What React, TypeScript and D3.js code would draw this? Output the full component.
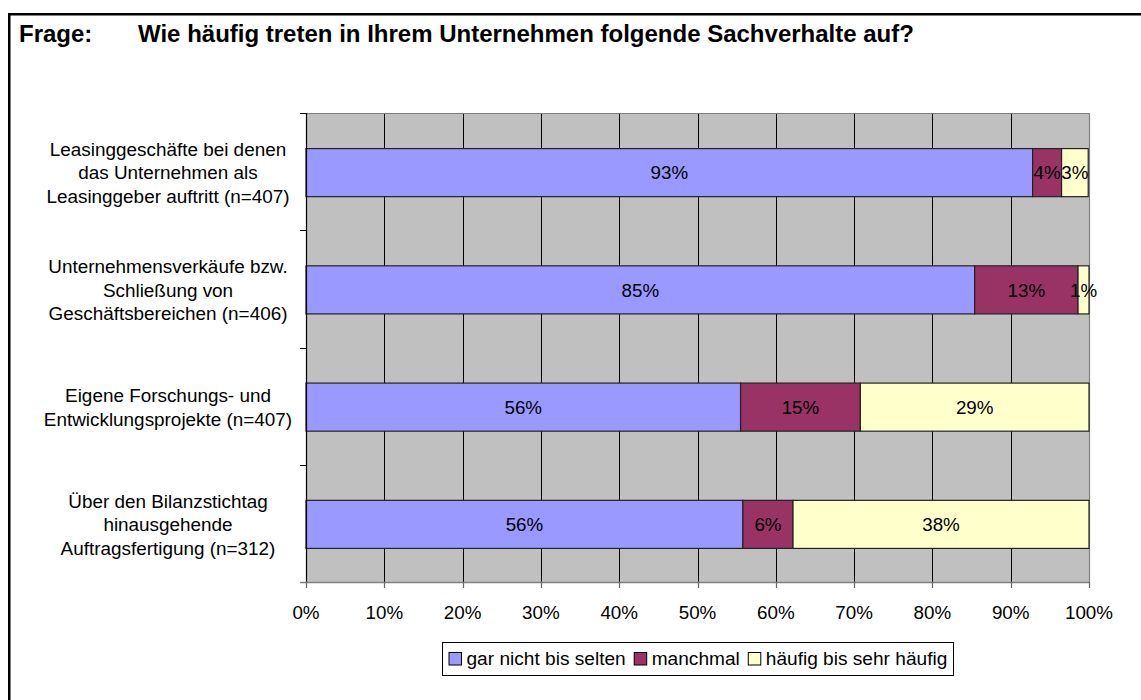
import React, { useEffect, useRef } from 'react';
import * as d3 from 'd3';

const titleLead = 'Frage:';
const titleText = 'Wie häufig treten in Ihrem Unternehmen folgende Sachverhalte auf?';

const categories: string[][] = [
  ['Leasinggeschäfte bei denen', 'das Unternehmen als', 'Leasinggeber auftritt (n=407)'],
  ['Unternehmensverkäufe bzw.', 'Schließung von', 'Geschäftsbereichen (n=406)'],
  ['Eigene Forschungs- und', 'Entwicklungsprojekte (n=407)'],
  ['Über den Bilanzstichtag', 'hinausgehende', 'Auftragsfertigung (n=312)'],
];

const seriesNames = ['gar nicht bis selten', 'manchmal', 'häufig bis sehr häufig'];
const garNichtBisSelten = [92.8, 85.4, 55.5, 55.8];
const manchmal = [3.7, 13.2, 15.3, 6.4];
const haeufig = [3.4, 1.4, 29.2, 37.8];
const seriesColors = ['#9999FF', '#993366', '#FFFFCC'];
const xTicks = [0, 10, 20, 30, 40, 50, 60, 70, 80, 90, 100];

const FONT = '"Liberation Sans", Arial, Helvetica, sans-serif';

export default function App() {
  const ref = useRef<SVGSVGElement>(null);

  useEffect(() => {
    const svg = d3.select(ref.current);
    svg.selectAll('*').remove();

    const W = 1141, H = 700;
    const m = { left: 306, right: 1089, top: 113, bottom: 582 };

    // frame
    svg.append('path')
      .attr('d', `M9.25,${H + 5} V14.25 H${W + 5}`)
      .attr('fill', 'none').attr('stroke', '#000').attr('stroke-width', 2.5);

    // title
    svg.append('text').attr('x', 19).attr('y', 41.5)
      .attr('font-family', FONT).attr('font-weight', 'bold').attr('font-size', 24)
      .attr('fill', '#000').text(titleLead);
    svg.append('text').attr('x', 138).attr('y', 41.5)
      .attr('font-family', FONT).attr('font-weight', 'bold').attr('font-size', 24)
      .attr('fill', '#000').text(titleText);

    const x = d3.scaleLinear().domain([0, 100]).range([m.left, m.right]);
    const y = d3.scaleBand<number>().domain(d3.range(categories.length))
      .range([m.top, m.bottom]).paddingInner(0.59).paddingOuter(0.295);
    const step = y.step();

    // plot background
    svg.append('rect').attr('x', m.left).attr('y', m.top)
      .attr('width', m.right - m.left).attr('height', m.bottom - m.top)
      .attr('fill', '#C0C0C0');

    // gridlines
    svg.append('g').selectAll('line')
      .data(xTicks.filter(t => t > 0 && t < 100))
      .join('line')
      .attr('x1', d => Math.round(x(d)) + 0.5).attr('x2', d => Math.round(x(d)) + 0.5)
      .attr('y1', m.top).attr('y2', m.bottom)
      .attr('stroke', '#000').attr('stroke-width', 1);

    // plot border (top + right)
    svg.append('path')
      .attr('d', `M${m.left},${m.top + 0.5} H${m.right + 0.5} V${m.bottom}`)
      .attr('fill', 'none').attr('stroke', '#808080').attr('stroke-width', 1.2);

    // bars
    const stacks = categories.map((_, i) => {
      const vals = [garNichtBisSelten[i], manchmal[i], haeufig[i]];
      let acc = 0;
      return vals.map((v, s) => {
        const seg = { s, i, x0: acc, x1: acc + v, v };
        acc += v;
        return seg;
      });
    });
    const segs = stacks.flat();
    svg.append('g').selectAll('rect').data(segs).join('rect')
      .attr('x', d => x(d.x0)).attr('width', d => x(d.x1) - x(d.x0))
      .attr('y', d => (y(d.i) as number) + 1).attr('height', y.bandwidth())
      .attr('fill', d => seriesColors[d.s])
      .attr('stroke', '#222').attr('stroke-width', 1.2);

    svg.append('g').selectAll('text').data(segs).join('text')
      .attr('x', d => (x(d.x0) + x(d.x1)) / 2)
      .attr('y', d => (y(d.i) as number) + 1 + y.bandwidth() / 2 + 6.8)
      .attr('text-anchor', 'middle')
      .attr('font-family', FONT).attr('font-size', 18.8)
      .attr('fill', '#000')
      .text(d => `${Math.round(d.v)}%`);

    // left axis
    svg.append('line').attr('x1', m.left + 0.5).attr('x2', m.left + 0.5)
      .attr('y1', m.top).attr('y2', m.bottom).attr('stroke', '#000').attr('stroke-width', 1.2);
    svg.append('g').selectAll('line').data(d3.range(categories.length + 1)).join('line')
      .attr('x1', m.left - 6).attr('x2', m.left)
      .attr('y1', d => Math.round(m.top + d * step) + 0.5)
      .attr('y2', d => Math.round(m.top + d * step) + 0.5)
      .attr('stroke', '#000').attr('stroke-width', 1);

    // bottom axis
    svg.append('line').attr('x1', m.left - 6).attr('x2', m.right + 0.5)
      .attr('y1', m.bottom + 0.5).attr('y2', m.bottom + 0.5)
      .attr('stroke', '#808080').attr('stroke-width', 1.5);
    svg.append('g').selectAll('line').data(xTicks).join('line')
      .attr('x1', d => Math.round(x(d)) + 0.5).attr('x2', d => Math.round(x(d)) + 0.5)
      .attr('y1', m.bottom).attr('y2', m.bottom + 6)
      .attr('stroke', '#666').attr('stroke-width', 1.2);
    svg.append('g').selectAll('text').data(xTicks).join('text')
      .attr('x', d => x(d)).attr('y', 618.5)
      .attr('text-anchor', 'middle')
      .attr('font-family', FONT).attr('font-size', 18.8).attr('fill', '#000')
      .text(d => `${d}%`);

    // category labels
    const lineH = 23.5;
    categories.forEach((lines, i) => {
      const c = (y(i) as number) + 1 + y.bandwidth() / 2;
      const t = svg.append('text')
        .attr('text-anchor', 'middle')
        .attr('font-family', FONT).attr('font-size', 18.9).attr('fill', '#000');
      lines.forEach((ln, k) => {
        t.append('tspan').attr('x', 168)
          .attr('y', c + (k - (lines.length - 1) / 2) * lineH + 6.8)
          .text(ln);
      });
    });

    // legend
    const lg = svg.append('g');
    const box = lg.append('rect');
    const pad = 6.5, mk = 12.5, gapMk = 5, gapItem = 8.5;
    let cx = 0;
    const items = seriesNames.map((name, s) => {
      const g = lg.append('g');
      g.append('rect').attr('x', cx).attr('y', 0).attr('width', mk).attr('height', mk)
        .attr('fill', seriesColors[s]).attr('stroke', '#000').attr('stroke-width', 1);
      const tx = g.append('text').attr('x', cx + mk + gapMk).attr('y', mk - 0.3)
        .attr('font-family', FONT).attr('font-size', 19.1).attr('fill', '#000').text(name);
      const w = (tx.node() as SVGTextElement).getComputedTextLength();
      cx += mk + gapMk + w + gapItem;
      return g;
    });
    const inner = cx - gapItem;
    const boxW = inner + 2 * pad;
    const boxX = (m.left + m.right) / 2 - boxW / 2;
    box.attr('x', Math.round(boxX) + 0.5).attr('y', 642.5)
      .attr('width', Math.round(boxW)).attr('height', 33)
      .attr('fill', '#fff').attr('stroke', '#000').attr('stroke-width', 1);
    items.forEach(g => g.attr('transform', `translate(${Math.round(boxX) + 0.5 + pad},${652.5})`));
  }, []);

  return (
    <svg ref={ref} width={1141} height={700}
      style={{ position: 'absolute', left: 0, top: 0, display: 'block', background: '#fff' }} />
  );
}
